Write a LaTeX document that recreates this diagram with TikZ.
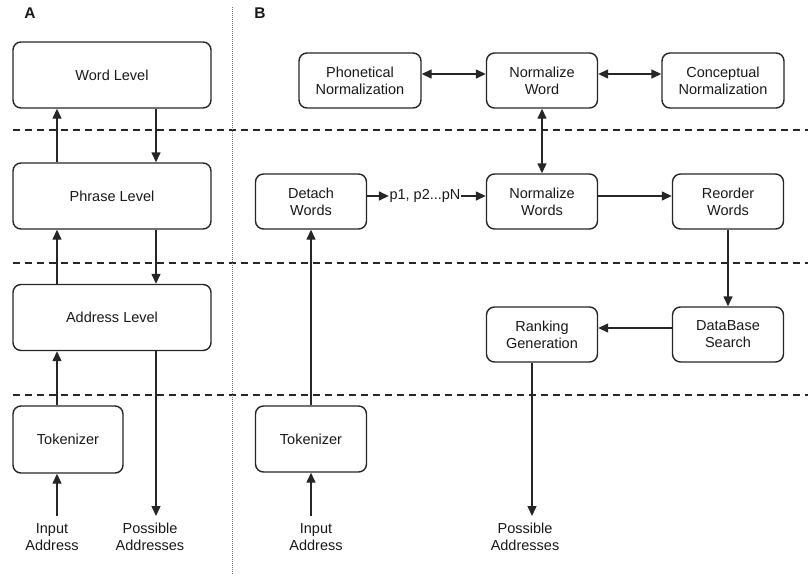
\documentclass[tikz,border=0pt]{standalone}
\usepackage{fontspec}
\setmainfont{Liberation Sans}
\usepackage{tikz}
\usetikzlibrary{arrows.meta, positioning}

\begin{document}
\begin{tikzpicture}[x=1pt,y=-1pt,on grid,>={Triangle[length=10pt,width=9pt]},
        every node/.style={font=\fontsize{14.5}{17}\selectfont,text=black!90},
        levelbox/.style={draw=black!85,line width=1.4pt,rounded corners=8pt,align=center,
                         inner sep=0pt,minimum width=198pt,minimum height=66pt},
        stagebox/.style={levelbox,minimum width=111pt,minimum height=55pt},
        widebox/.style={stagebox,minimum width=122pt},
        iolabel/.style={align=center,inner sep=1pt,anchor=north},
        panel/.style={font=\bfseries\fontsize{15.5}{18}\selectfont},
        sepline/.style={black!85,line width=1.2pt,dash pattern=on 7pt off 5pt},
        flowarrow/.style={->,black!85,line width=1.4pt}]

      \useasboundingbox (0,0) rectangle (808,581);

      % layers and panels
      \foreach \yy in {130,263,395}
        \draw[sepline] (13,\yy) -- (808,\yy);
      \draw[black!55,line width=1pt,dash pattern=on 1pt off 1pt] (232,7) -- (232,575);

      \node[panel] (labA) at (30,13) {A};
      \node[panel] (labB) at (260,13) {B};

      % panel A
      \node[levelbox] (wordA)   at (112,75)            {Word Level};
      \node[levelbox] (phraseA) [below=121pt of wordA]   {Phrase Level};
      \node[levelbox] (addrA)   [below=121.5pt of phraseA] {Address Level};
      \node[levelbox,minimum width=110pt,minimum height=67pt] (tokA) at (68,439.5) {Tokenizer};

      \node[iolabel] (inA)  at (52,522)  {Input\\Address};
      \node[iolabel] (posA) at (150,522) {Possible\\Addresses};

      \path[flowarrow] ([xshift=-55pt]phraseA.north) edge ([xshift=-55pt]wordA.south)
                       ([xshift=44pt]wordA.south)    edge ([xshift=44pt]phraseA.north)
                       ([xshift=-55pt]addrA.north)   edge ([xshift=-55pt]phraseA.south)
                       ([xshift=44pt]phraseA.south)  edge ([xshift=44pt]addrA.north)
                       ([xshift=-11pt]tokA.north)    edge ([xshift=-55pt]addrA.south)
                       ([xshift=5pt,yshift=6pt]inA.north) edge ([xshift=-11pt]tokA.south)
                       ([xshift=44pt]addrA.south)    edge ([xshift=6pt,yshift=6pt]posA.north);

      % panel B
      \node[widebox]  (phon)   at (360,80.5)             {Phonetical\\Normalization};
      \node[stagebox] (normW)  [right=182pt of phon]     {Normalize\\Word};
      \node[widebox]  (conc)   [right=181pt of normW]    {Conceptual\\Normalization};
      \node[stagebox] (detach) at (311,201.5)            {Detach\\Words};
      \node[stagebox] (normWs) [below=121pt of normW]    {Normalize\\Words};
      \node[stagebox] (reord)  [right=186pt of normWs]   {Reorder\\Words};
      \node[stagebox] (dbs)    [below=133pt of reord]    {DataBase\\Search};
      \node[stagebox] (rank)   [left=186pt of dbs]       {Ranking\\Generation};
      \node[stagebox,minimum height=66pt] (tokB) [below=237.5pt of detach] {Tokenizer};

      \node[inner sep=0.5pt] (plist) at (425,196) {p1, p2...pN};
      \node[iolabel] (inB)  at (316,522) {Input\\Address};
      \node[iolabel] (posB) at (525,522) {Possible\\Addresses};

      \path[flowarrow] ([yshift=6.5pt]phon.east)   edge [<->] ([yshift=6.5pt]normW.west)
                       ([yshift=6.5pt]normW.east)  edge [<->] ([yshift=6.5pt]conc.west)
                       (normW.south)               edge [<->] (normWs.north)
                       ([yshift=5.5pt]detach.east) edge (plist.west)
                       (plist.east)                edge ([yshift=5.5pt]normWs.west)
                       ([yshift=5.5pt]normWs.east) edge ([yshift=5.5pt]reord.west)
                       (reord.south)               edge (dbs.north)
                       ([yshift=6.5pt]dbs.west)    edge ([yshift=6.5pt]rank.east)
                       ([xshift=-10pt]rank.south)  edge ([xshift=7pt,yshift=6pt]posB.north)
                       ([xshift=-5pt,yshift=6pt]inB.north) edge (tokB.south)
                       (tokB.north)                edge (detach.south);
    \end{tikzpicture}
\end{document}
